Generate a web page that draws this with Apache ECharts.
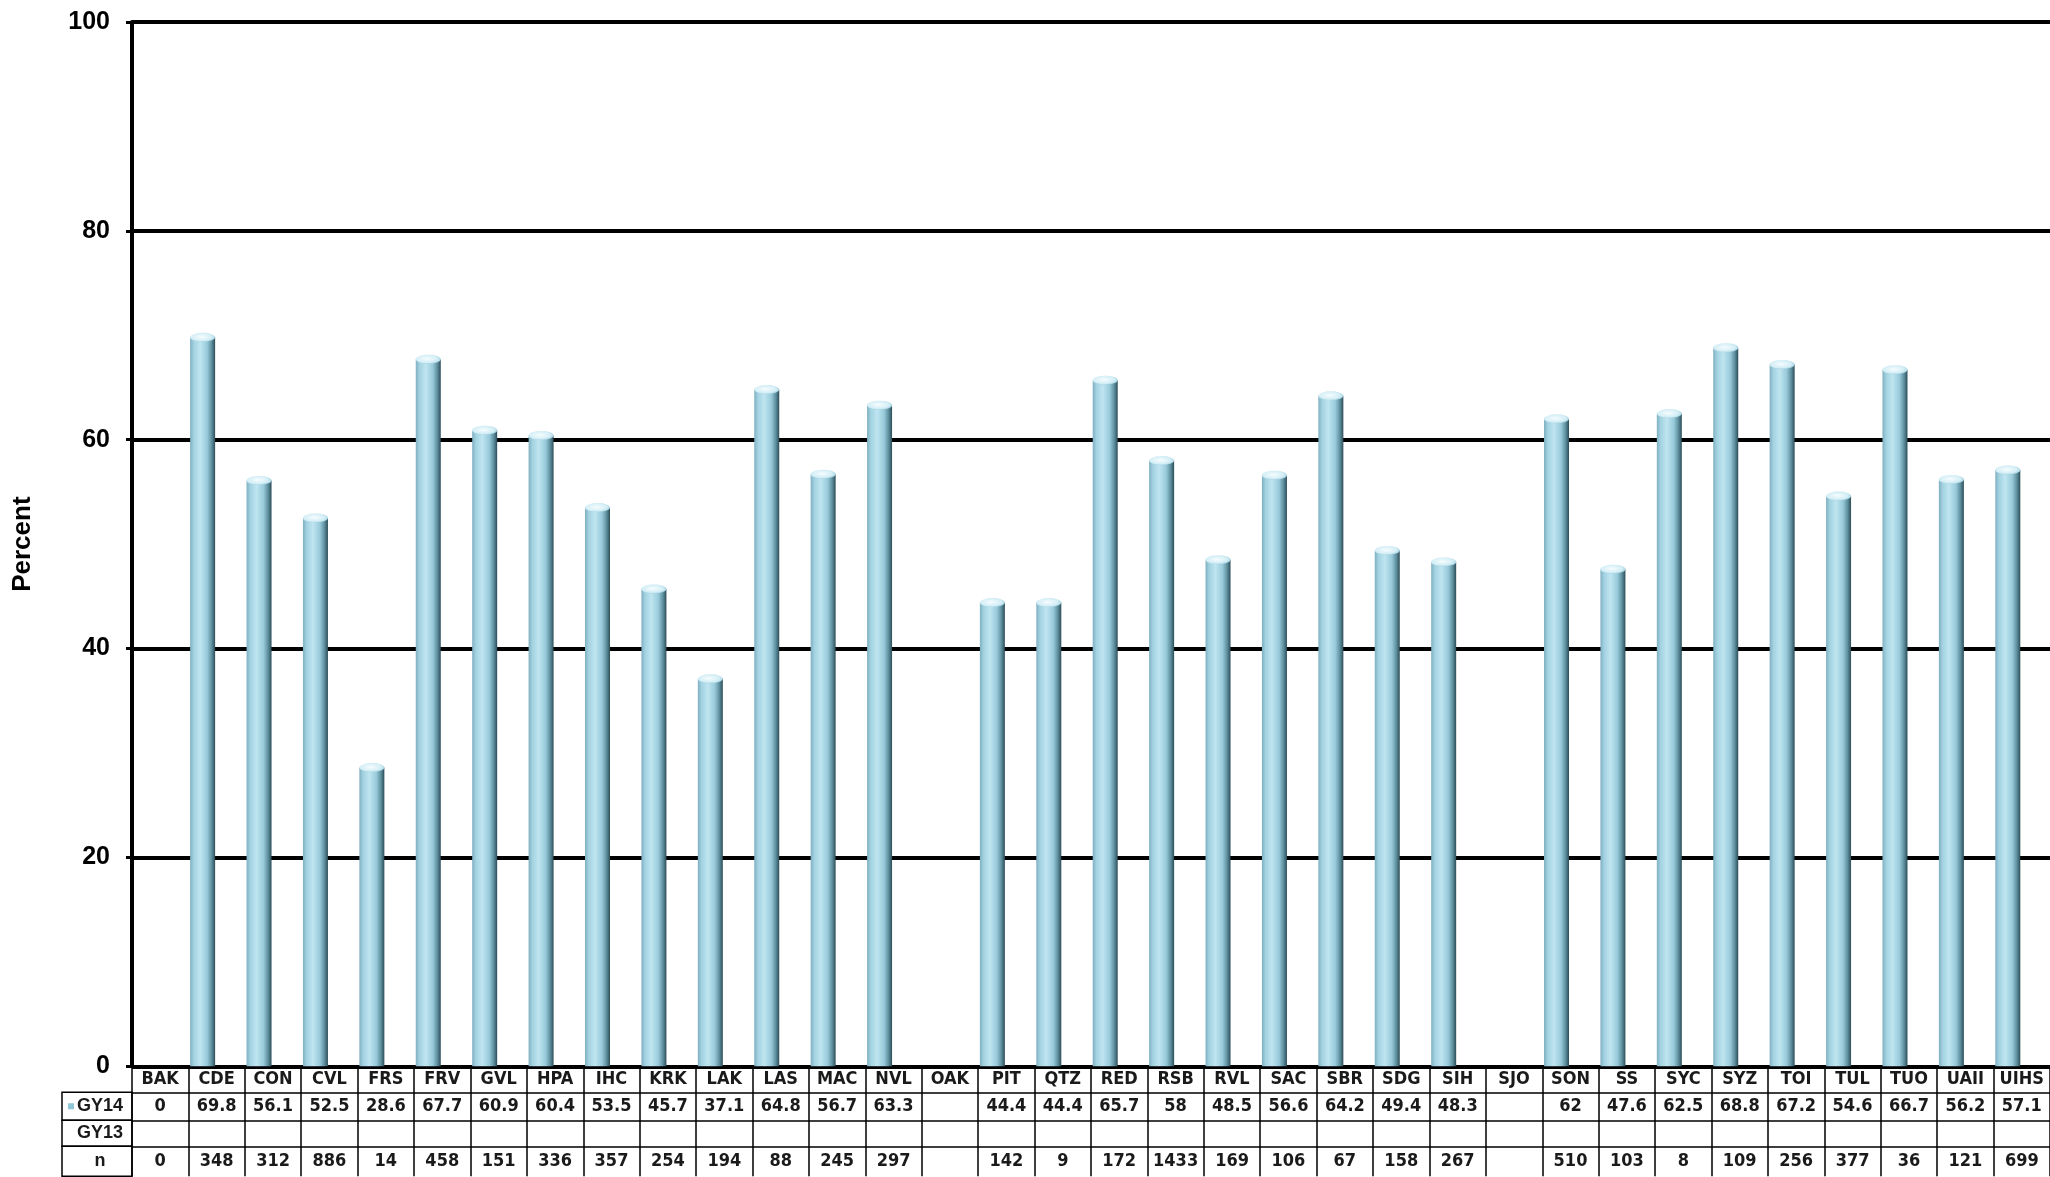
<!DOCTYPE html>
<html>
<head>
<meta charset="utf-8">
<script src="https://cdn.jsdelivr.net/npm/echarts@6/dist/echarts.min.js"></script>
<style>
  html, body { margin: 0; padding: 0; background: #ffffff; }
  #chart { width: 2050px; height: 1177px; }
</style>
</head>
<body>
<div id="chart"></div>
<script>
// Sites along the category axis
const categories = ['BAK','CDE','CON','CVL','FRS','FRV','GVL','HPA','IHC','KRK','LAK','LAS','MAC','NVL','OAK','PIT','QTZ','RED','RSB','RVL','SAC','SBR','SDG','SIH','SJO','SON','SS','SYC','SYZ','TOI','TUL','TUO','UAII','UIHS'];

// Percent for GY14 (null = no data reported)
const gy14 = [0, 69.8, 56.1, 52.5, 28.6, 67.7, 60.9, 60.4, 53.5, 45.7, 37.1, 64.8, 56.7, 63.3, null, 44.4, 44.4, 65.7, 58, 48.5, 56.6, 64.2, 49.4, 48.3, null, 62, 47.6, 62.5, 68.8, 67.2, 54.6, 66.7, 56.2, 57.1];

// GY13 has no values reported
const gy13 = [null, null, null, null, null, null, null, null, null, null, null, null, null, null, null, null, null, null, null, null, null, null, null, null, null, null, null, null, null, null, null, null, null, null];

// Number of respondents per site
const counts = [0, 348, 312, 886, 14, 458, 151, 336, 357, 254, 194, 88, 245, 297, null, 142, 9, 172, 1433, 169, 106, 67, 158, 267, null, 510, 103, 8, 109, 256, 377, 36, 121, 699];

// Y axis ticks
const yTicks = { min: 0, max: 100, interval: 20 };

const chart = echarts.init(document.getElementById('chart'), null, { renderer: 'canvas' });

const narrow = "'Liberation Sans Narrow', 'DejaVu Sans Condensed', 'Arial Narrow', sans-serif";
const sans = "'Liberation Sans', Arial, sans-serif";
const BAR_W = 25;
const BAR_SHIFT = -14;   // GY14 sits left of the (empty) GY13 slot

const barFill = new echarts.graphic.LinearGradient(0, 0, 1, 0, [
  { offset: 0, color: '#7fb0c1' },
  { offset: 0.15, color: '#a3d2e1' },
  { offset: 0.4, color: '#bfe5f0' },
  { offset: 0.68, color: '#98cadb' },
  { offset: 0.86, color: '#5f909f' },
  { offset: 1, color: '#2c4d57' }
]);

const capFill = new echarts.graphic.RadialGradient(0.45, 0.45, 0.6, [
  { offset: 0, color: '#f6fcfe' },
  { offset: 0.7, color: '#d3eef6' },
  { offset: 1, color: '#9ccbdb' }
]);

const fmt = v => (v === null || v === undefined) ? '' : String(v);

// One table row rendered as a category axis below the plot
function tableRow(offset, tickLen, values, header) {
  const axis = {
    type: 'category',
    position: 'bottom',
    gridIndex: 0,
    offset: offset,
    data: categories,
    axisLine: { show: true, lineStyle: { color: '#000', width: 1.5 } },
    axisTick: { show: true, interval: 0, length: tickLen, lineStyle: { color: '#000', width: 1.5 } },
    axisLabel: {
      interval: 0,
      margin: Math.round((tickLen - 18) / 2),
      fontFamily: narrow,
      fontWeight: 'bold',
      fontSize: 18,
      color: '#1a1a1a',
      formatter: (v, i) => values ? fmt(values[i]) : v
    },
    splitLine: { show: false }
  };
  if (header) {
    axis.name = header.text;
    axis.nameLocation = 'start';
    axis.nameGap = 0;
    axis.nameTextStyle = {
      align: 'right',
      verticalAlign: 'top',
      borderColor: '#000',
      borderWidth: 1.5,
      padding: [0, 6, 0, 6],
      rich: {
        k: { width: 6, height: 6, backgroundColor: header.key || 'transparent' },
        t: {
          width: 52, height: tickLen, lineHeight: tickLen, align: 'center',
          fontFamily: sans, fontWeight: 'bold', fontSize: 18, color: '#1a1a1a'
        }
      }
    };
  }
  return axis;
}

const option = {
  backgroundColor: '#ffffff',
  animation: false,
  grid: { left: 132, right: 0, top: 22, bottom: 104, containLabel: false },
  xAxis: [
    tableRow(0, 26, null, null),
    tableRow(26, 28, gy14, { text: '{k|}{t|GY14}', key: '#8fc6d8' }),
    tableRow(54, 26, gy13, { text: '{k|}{t|GY13}' }),
    tableRow(80, 30, counts, { text: '{k|}{t|n}' })
  ],
  yAxis: {
    type: 'value',
    min: yTicks.min,
    max: yTicks.max,
    interval: yTicks.interval,
    name: 'Percent',
    nameLocation: 'middle',
    nameGap: 96,
    nameTextStyle: { fontFamily: sans, fontWeight: 'bold', fontSize: 26, color: '#000' },
    axisLine: { show: true, lineStyle: { color: '#000', width: 4 } },
    axisTick: { show: true, length: 6, lineStyle: { color: '#000', width: 3 } },
    axisLabel: { margin: 22, fontFamily: sans, fontWeight: 'bold', fontSize: 25, color: '#000' },
    splitLine: { show: true, lineStyle: { color: '#000', width: 4 } }
  },
  series: [
    {
      name: 'GY14',
      type: 'bar',
      xAxisIndex: 0,
      data: gy14,
      barWidth: BAR_W,
      barGap: '12%',
      itemStyle: { color: barFill },
      z: 3
    },
    {
      name: 'GY13',
      type: 'bar',
      xAxisIndex: 0,
      data: gy13,
      barWidth: BAR_W,
      barGap: '12%',
      itemStyle: { color: '#ffffff' },
      z: 3
    },
    {
      // rounded top of each GY14 column
      name: 'GY14 cap',
      type: 'pictorialBar',
      xAxisIndex: 0,
      data: gy14.map(v => (v ? v : '-')),
      symbol: 'circle',
      symbolSize: [BAR_W, 9],
      symbolPosition: 'end',
      symbolOffset: [BAR_SHIFT, '-50%'],
      itemStyle: { color: capFill },
      z: 4,
      silent: true
    }
  ]
};

chart.setOption(option);
</script>
</body>
</html>
